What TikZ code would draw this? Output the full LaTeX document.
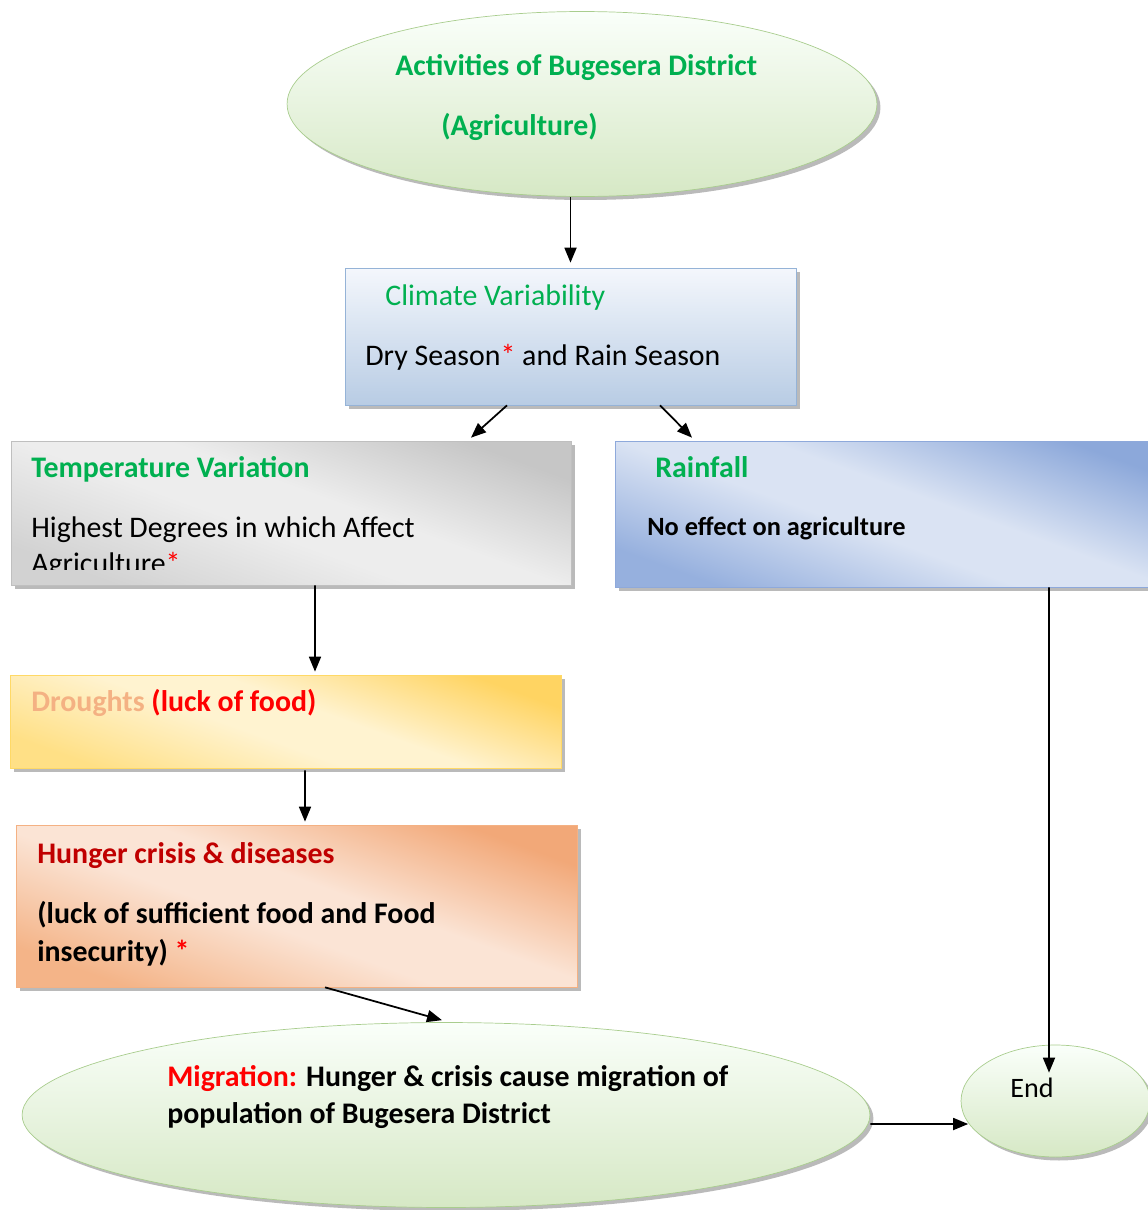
\documentclass[tikz,border=0pt]{standalone}
\usepackage{fontspec}
\setmainfont{Carlito}
\usepackage{tikz}
\usetikzlibrary{shapes.geometric, arrows, arrows.meta, shadows}
\definecolor{cgreen}{HTML}{00B050}
\definecolor{cdred}{HTML}{C00000}
\definecolor{csalmon}{HTML}{F4B183}
\definecolor{tempdark}{RGB}{198,198,198}
\definecolor{templow}{RGB}{210,210,210}
\definecolor{templight}{RGB}{237,237,237}
\definecolor{raindark}{RGB}{140,168,218}
\definecolor{rainlow}{RGB}{150,176,222}
\definecolor{rainlight}{RGB}{218,227,243}
\definecolor{droughtdark}{RGB}{255,212,98}
\definecolor{droughtlow}{RGB}{255,224,134}
\definecolor{droughtlight}{RGB}{255,243,208}
\definecolor{hungerdark}{RGB}{242,168,120}
\definecolor{hungerlow}{RGB}{244,180,136}
\definecolor{hungerlight}{RGB}{251,228,213}
\pgfdeclareverticalshading{tempshade}{100bp}{color(0bp)=(templow); color(25bp)=(templow); color(45bp)=(templight); color(55bp)=(templight); color(75bp)=(tempdark); color(100bp)=(tempdark)}
\pgfdeclareverticalshading{rainshade}{100bp}{color(0bp)=(rainlow); color(25bp)=(rainlow); color(45bp)=(rainlight); color(55bp)=(rainlight); color(75bp)=(raindark); color(100bp)=(raindark)}
\pgfdeclareverticalshading{droughtshade}{100bp}{color(0bp)=(droughtlow); color(25bp)=(droughtlow); color(45bp)=(droughtlight); color(55bp)=(droughtlight); color(75bp)=(droughtdark); color(100bp)=(droughtdark)}
\pgfdeclareverticalshading{hungershade}{100bp}{color(0bp)=(hungerlow); color(25bp)=(hungerlow); color(45bp)=(hungerlight); color(55bp)=(hungerlight); color(75bp)=(hungerdark); color(100bp)=(hungerdark)}
\tikzstyle{startstop} = [ellipse, draw={rgb,255:red,169;green,205;blue,142}, top color=green!2!white, bottom color={rgb,255:red,214;green,232;blue,197}, drop shadow={shadow xshift=0.07cm, shadow yshift=-0.07cm, fill=black!45, opacity=0.6}]
\tikzstyle{boxbase} = [rectangle, minimum width=3cm, minimum height=1cm, drop shadow={shadow xshift=0.08cm, shadow yshift=-0.08cm, fill=black!45, opacity=0.6}]
\tikzstyle{climatebox} = [boxbase, draw={rgb,255:red,149;green,179;blue,215}, top color={rgb,255:red,244;green,247;blue,252}, bottom color={rgb,255:red,184;green,204;blue,228}]
\tikzstyle{tempbox} = [boxbase, draw={rgb,255:red,191;green,191;blue,191}, shade, shading=tempshade, shading angle=-20]
\tikzstyle{rainbox} = [boxbase, draw={rgb,255:red,142;green,169;blue,219}, shade, shading=rainshade, shading angle=-20]
\tikzstyle{droughtbox} = [boxbase, draw={rgb,255:red,255;green,217;blue,102}, shade, shading=droughtshade, shading angle=-20]
\tikzstyle{hungerbox} = [boxbase, draw={rgb,255:red,244;green,177;blue,131}, shade, shading=hungershade, shading angle=-20]
\tikzstyle{txt} = [anchor=base west, inner sep=0pt, font=\fontsize{17}{20}\selectfont]
\tikzstyle{txtb} = [anchor=base west, inner sep=0pt, font=\fontsize{17}{20}\selectfont\bfseries]
\tikzstyle{arrow} = [line width=1pt,->,>={Triangle[length=0.3cm, width=0.24cm]}]

\begin{document}
\begin{tikzpicture}[x=0.02cm, y=-0.02cm]
\useasboundingbox (0,0) rectangle (1148,1210);
\node(activities) [startstop, minimum width=11.8cm, minimum height=3.7cm] at (582,104) {};
\node(climate) [climatebox, minimum width=9.02cm, minimum height=2.74cm] at (570.5,336.5) {};
\node(temperature) [tempbox, minimum width=11.2cm, minimum height=2.88cm] at (291,513) {};
\node(rainfall) [rainbox, minimum width=11.2cm, minimum height=2.92cm] at (895,514) {};
\node(droughts) [droughtbox, minimum width=11.02cm, minimum height=1.86cm] at (285.5,721.5) {};
\node(hunger) [hungerbox, minimum width=11.22cm, minimum height=3.24cm] at (296.5,906) {};
\node(migration) [startstop, minimum width=16.96cm, minimum height=3.7cm] at (446,1115) {};
\node(end) [startstop, minimum width=3.78cm, minimum height=2.24cm] at (1055.5,1101) {};

\node(activities_t1) [txtb, text=cgreen] at (395,75) {Activities of Bugesera District};
\node(activities_t2) [txtb, text=cgreen] at (441,135) {(Agriculture)};
\node(climate_t1) [txt, text=cgreen] at (385,305) {Climate Variability};
\node(climate_t2) [txt] at (365,365) {Dry Season\textcolor{red}{*} and Rain Season};
\node(temperature_t1) [txtb, text=cgreen] at (31,477) {Temperature Variation};
\node(temperature_t2) [txt] at (31,537) {Highest Degrees in which Affect};
\begin{scope}
\clip (11,441) rectangle (571,569);
\node(temperature_t3) [txt] at (31,573) {Agriculture\textcolor{red}{*}};
\end{scope}
\node(rainfall_t1) [txtb, text=cgreen] at (655,477) {Rainfall};
\node(rainfall_t2) [txtb, font=\fontsize{15}{18}\selectfont\bfseries] at (647,535) {No effect on agriculture};
\node(droughts_t1) [txtb] at (31,711) {\textcolor{csalmon}{Droughts} \textcolor{red}{(luck of food)}};
\node(hunger_t1) [txtb, text=cdred] at (37,863) {Hunger crisis \& diseases};
\node(hunger_t2) [txtb] at (37,923) {(luck of sufficient food and Food};
\node(hunger_t3) [txtb] at (37,961) {insecurity) \textcolor{red}{*}};
\node(migration_t1) [txtb] at (167,1086) {\textcolor{red}{Migration:} Hunger \& crisis cause migration of};
\node(migration_t2) [txtb] at (167,1123) {population of Bugesera District};
\node(end_t) [txt, font=\fontsize{16}{19}\selectfont] at (1010,1097) {End};

\draw[arrow] (activities.south -| climate.north) -- ([yshift=0.1cm]climate.north);
\draw[arrow] ([xshift=-1.27cm]climate.south) -- ([xshift=3.6cm, yshift=0.06cm]temperature.north);
\draw[arrow] ([xshift=1.79cm]climate.south) -- ([xshift=-4.06cm, yshift=0.06cm]rainfall.north);
\draw[arrow] ([xshift=0.48cm]temperature.south) -- ([xshift=0.59cm, yshift=0.06cm]droughts.north);
\draw[arrow] ([xshift=0.39cm, yshift=-0.04cm]droughts.south) -- ([xshift=0.17cm, yshift=0.06cm]hunger.north);
\draw[arrow] ([xshift=0.57cm]hunger.south) -- ([xshift=-0.08cm, yshift=0.04cm]migration.north);
\draw[arrow] ([xshift=3.08cm]rainfall.south) -- ([xshift=-0.13cm, yshift=-0.56cm]end.north);
\draw[arrow] ([yshift=-0.18cm]migration.east) -- ([xshift=0.15cm, yshift=-0.46cm]end.west);
\end{tikzpicture}
\end{document}
